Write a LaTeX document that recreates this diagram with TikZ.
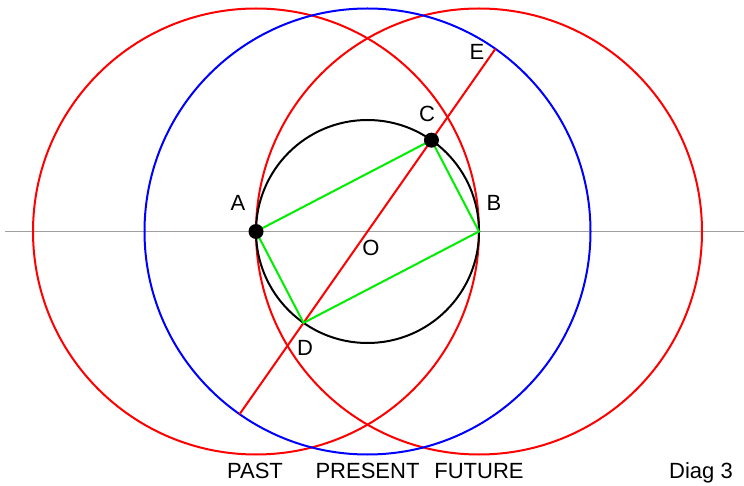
\documentclass[tikz,border=0pt]{standalone}
\usepackage{fontspec}
\setmainfont{Liberation Sans}
\usepackage{tikz}
\usetikzlibrary{calc}
\definecolor{mRed}{HTML}{FF0000}
\definecolor{mBlue}{HTML}{0000FF}
\definecolor{mGreen}{HTML}{00EE00}
\definecolor{mGray}{HTML}{A0A0A0}

\begin{document}
\begin{tikzpicture}[x=0.5pt, y=-0.5pt,
      ring/.style={line width=1pt},
      lbl/.style={font=\fontsize{11}{13}\selectfont, inner sep=0pt},
      dot/.style={fill=black, circle, minimum size=7.5pt, inner sep=0pt}]
    \useasboundingbox (0,0) rectangle (744,486);
    % base points
    \coordinate (O) at (367.5,231.5);
    \coordinate (A) at (256,231.5);
    \coordinate (B) at (479,231.5);
    \coordinate (C) at ($(O)+(55:55.75pt)$);
    \coordinate (D) at ($(O)+(235:55.75pt)$);
    \coordinate (E) at ($(O)+(55:111.5pt)$);
    \coordinate (F) at ($(O)+(235:111.5pt)$);
    \coordinate (L) at (5,231.5);
    \coordinate (R) at (744,231.5);
    \draw[mGray, line width=0.6pt] (L) -- (R);
    % circles
    \draw[ring, mRed] (A) circle[radius=111.5pt];
    \draw[ring, mRed] (B) circle[radius=111.5pt];
    \draw[ring, mBlue] (O) circle[radius=111.5pt];
    \draw[ring, black] (O) circle[radius=55.75pt];
    \draw[ring, mRed] (F) -- (E);
    \draw[ring, mGreen] (A) -- (C) -- (B) -- (D) -- cycle;
    \node[dot] (dA) at (A) {};
    \node[dot] (dC) at (C) {};
    % labels
    \node[lbl] (lA) at (238,203) {A};
    \node[lbl] (lB) at (494,203) {B};
    \node[lbl] (lC) at (427,114) {C};
    \node[lbl] (lD) at (305,348) {D};
    \node[lbl] (lE) at (477,52)  {E};
    \node[lbl] (lO) at (371,248) {O};
    \node[lbl, anchor=base] (past)    at (255,478)   {PAST};
    \node[lbl, anchor=base] (present) at (367.5,478) {PRESENT};
    \node[lbl, anchor=base] (future)  at (479,478)   {FUTURE};
    \node[lbl, anchor=base] (diag)    at (701,478)   {Diag 3};
  \end{tikzpicture}
\end{document}
